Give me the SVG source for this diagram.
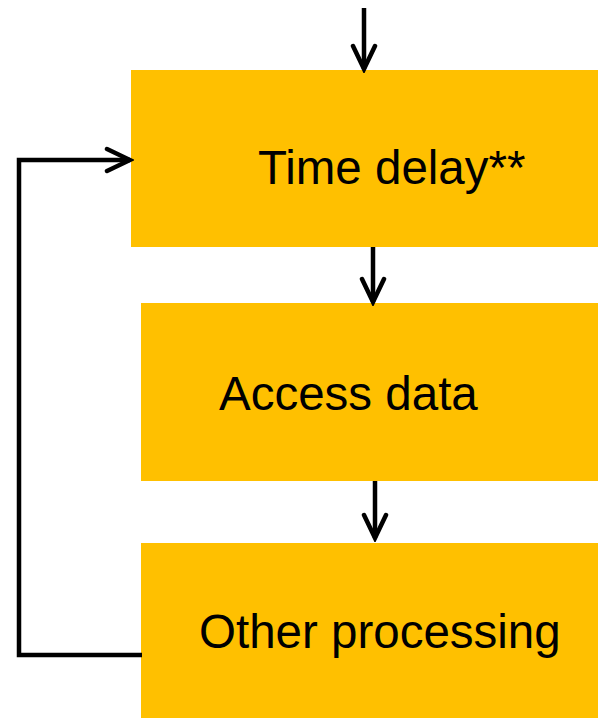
<svg xmlns="http://www.w3.org/2000/svg" width="598" height="718" viewBox="0 0 598 718">
<style>
.box{fill:#FFC000}
.lbl{font-family:"Liberation Sans",Arial,sans-serif;font-size:47.5px;fill:#000}
.con{fill:none;stroke:#000;stroke-width:4.5}
</style>
<defs>
<marker id="ah" markerUnits="userSpaceOnUse" markerWidth="30" markerHeight="30" refX="26" refY="13" orient="auto" viewBox="0 0 30 26">
<path d="M3,2 L26,13 L3,24" fill="none" stroke="#000" stroke-width="4.5" stroke-linecap="round" stroke-linejoin="miter"/>
</marker>
</defs>
<g id="node-time-delay">
<rect class="box" x="131" y="70" width="467" height="177"/>
<text class="lbl" x="258" y="184">Time delay**</text>
</g>
<g id="node-access-data">
<rect class="box" x="141" y="303" width="457" height="178"/>
<text class="lbl" x="219" y="410">Access data</text>
</g>
<g id="node-other-processing">
<rect class="box" x="141" y="543" width="457" height="175"/>
<text class="lbl" x="199" y="648">Other processing</text>
</g>
<g id="connectors">
<path class="con" d="M364,8 L364,69" marker-end="url(#ah)"/>
<path class="con" d="M373,247 L373,302" marker-end="url(#ah)"/>
<path class="con" d="M375,481 L375,538" marker-end="url(#ah)"/>
<path class="con" d="M142,655 L19,655 L19,160 L130,160" marker-end="url(#ah)"/>
</g>
</svg>
